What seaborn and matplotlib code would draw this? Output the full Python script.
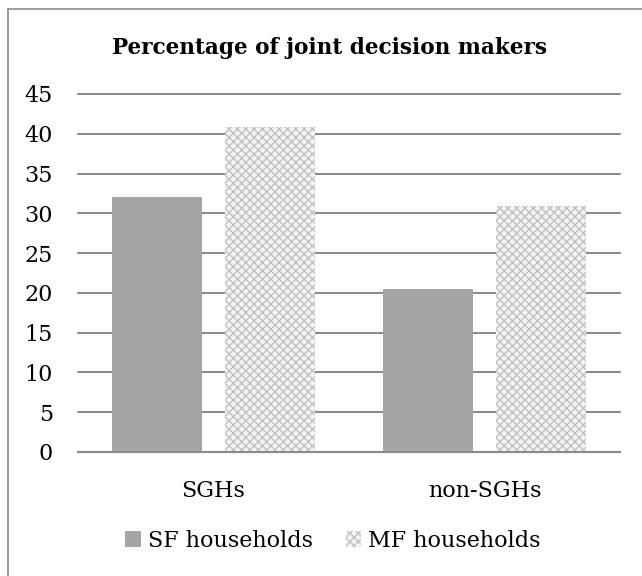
import matplotlib
matplotlib.use("Agg")
import matplotlib.pyplot as plt
import seaborn as sns
import pandas as pd
from matplotlib.lines import Line2D

categories = ["SGHs", "non-SGHs"]
series_names = ["SF households", "MF households"]
sf_values = [32.1, 20.5]
mf_values = [40.8, 30.9]
y_ticks = [0, 5, 10, 15, 20, 25, 30, 35, 40, 45]
title = "Percentage of joint decision makers"

df = pd.DataFrame({
    "group": categories * 2,
    "series": [series_names[0]] * len(categories) + [series_names[1]] * len(categories),
    "value": sf_values + mf_values,
})

sns.set_theme(style="white")
plt.rcParams["font.family"] = ["DejaVu Serif"]
plt.rcParams["text.color"] = "black"
plt.rcParams["xtick.color"] = "black"
plt.rcParams["ytick.color"] = "black"
plt.rcParams["xtick.labelcolor"] = "black"
plt.rcParams["ytick.labelcolor"] = "black"

W, H = 642, 576
fig = plt.figure(figsize=(W / 100, H / 100), dpi=100)
ax = fig.add_axes([78 / W, 1 - 452 / H, (620 - 78) / W, (452 - 94) / H])

sns.barplot(data=df, x="group", y="value", hue="series", order=categories,
            hue_order=series_names, palette=["#a5a5a5", "#ffffff"],
            width=0.834, gap=0.204, ax=ax, legend=True, saturation=1)

for p in ax.containers[0]:
    p.set_edgecolor("none")
    p.set_linewidth(0)
for p in ax.containers[1]:
    p.set_facecolor("#f4f4f4")
    p.set_edgecolor("#c2c2c2")
    p.set_hatch("xxxx")
    p.set_linewidth(0)

ax.set_ylim(0, 45)
ax.set_xlim(-0.5, 1.5)
ax.set_yticks(y_ticks)
ax.set_yticklabels([str(t) for t in y_ticks], fontsize=16)
ax.tick_params(axis="x", labelsize=16, pad=20, length=0)
ax.tick_params(axis="y", length=0, pad=18)
ax.yaxis.grid(True, color="#8c8c8c", linewidth=1.5)
for gl in ax.get_ygridlines():
    gl.set_clip_on(False)
ax.set_axisbelow(True)
for s in ["top", "right", "left"]:
    ax.spines[s].set_visible(False)
ax.spines["bottom"].set_color("#8c8c8c")
ax.spines["bottom"].set_linewidth(1.5)
ax.set_xlabel("")
ax.set_ylabel("")

handles, labels = ax.get_legend_handles_labels()
handles[0].set_edgecolor("none")
handles[1].set_facecolor("#f4f4f4")
handles[1].set_edgecolor("#c2c2c2")
handles[1].set_hatch("xxxx")
handles[1].set_linewidth(0)
ax.legend(handles, labels, ncol=2, frameon=False, fontsize=16,
          loc="center", bbox_to_anchor=(333 / W, 1 - 541 / H),
          bbox_transform=fig.transFigure, handlelength=0.7, handleheight=0.7,
          handletextpad=0.3, columnspacing=1.5)

fig.text(329 / W, 1 - 48 / H, title, ha="center", va="center",
         fontsize=15.6, fontweight="bold", color="black")

fig.add_artist(Line2D([8 / W, 8 / W], [0, 1 - 9 / H], transform=fig.transFigure,
                      color="#8c8c8c", linewidth=1.2))
fig.add_artist(Line2D([8 / W, 1], [1 - 9 / H, 1 - 9 / H], transform=fig.transFigure,
                      color="#8c8c8c", linewidth=1.2))

fig.savefig("out.png", dpi=100, facecolor="white")
